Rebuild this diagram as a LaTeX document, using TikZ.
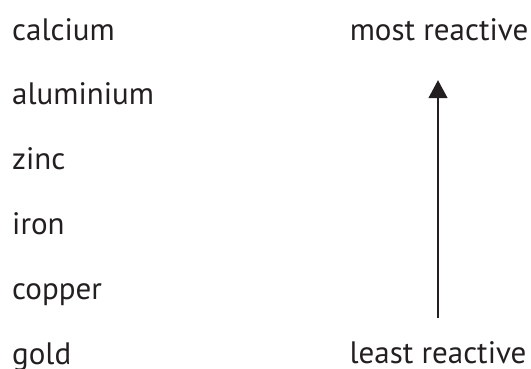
\documentclass[tikz,border=0pt]{standalone}
\usepackage{fontspec}
\setmainfont{PT Sans}
\usetikzlibrary{positioning,arrows.meta}
\definecolor{ink}{HTML}{231F20}
\tikzset{
  metal/.style={inner sep=0pt,text height=23pt,text depth=8pt,anchor=base west,text=ink,
    font=\fontsize{31}{37}\selectfont},
  level/.style={metal,anchor=base}
}
\begin{document}
\begin{tikzpicture}[node distance = 33.4pt]
      \useasboundingbox (0,0) rectangle (531pt,-368pt);
      \node[metal] (ca) at (12pt,-40pt) {calcium};
      \node[metal,below = of ca.south west,anchor=north west] (al) {aluminium};
      \node[metal,below = of al.south west,anchor=north west] (zn) {zinc};
      \node[metal,below = of zn.south west,anchor=north west] (fe) {iron};
      \node[metal,below = of fe.south west,anchor=north west] (cu) {copper};
      \node[metal,below = of cu.south west,anchor=north west] (au) {gold};
      \node[level] (most) at (439pt,-40pt) {most reactive};
      \node[level] (least) at (438pt,-363pt) {least reactive};

      \draw[-{Triangle[length=18pt,width=19pt]},line width=1.5pt,ink,shorten <=22pt,shorten >=32pt]
        (least.north) -- (least.north |- most.south);
    \end{tikzpicture}
\end{document}
